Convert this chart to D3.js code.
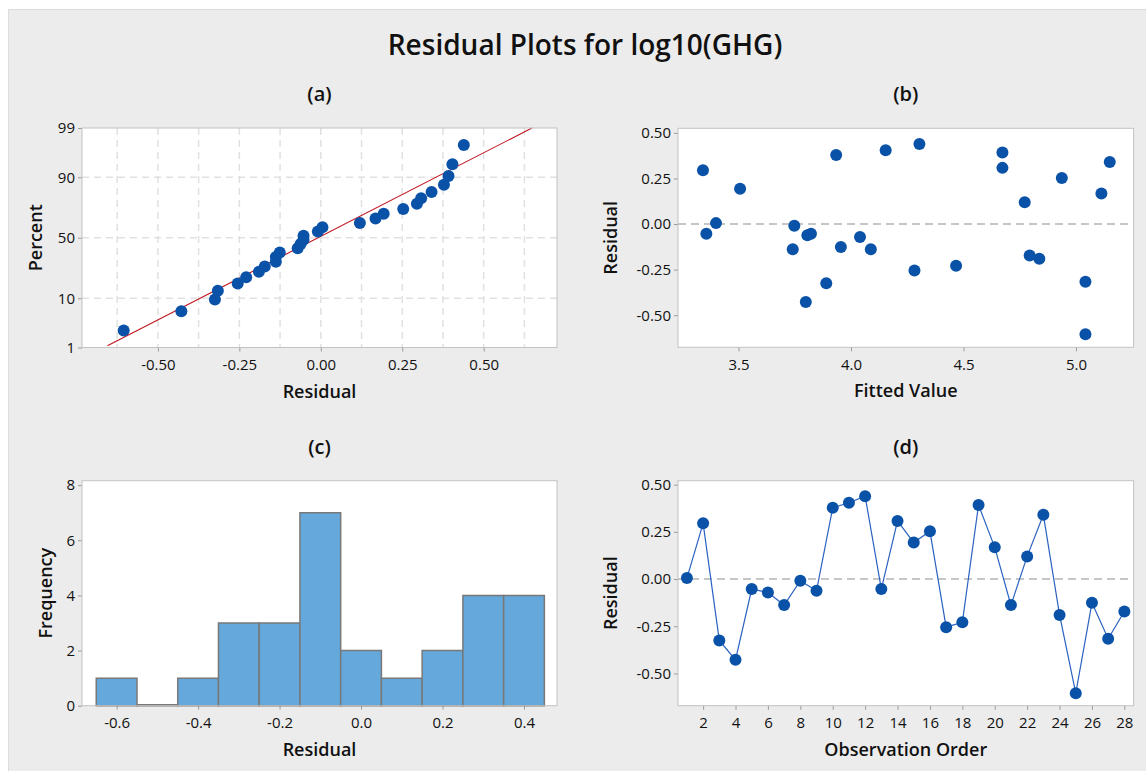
<!DOCTYPE html>
<html>
<head>
<meta charset="utf-8">
<script src="https://cdn.jsdelivr.net/npm/d3@7"></script>
<style>
  body { margin: 0; background: #fff; }
  text { font-family: "Open Sans", "Noto Sans", sans-serif; }
</style>
</head>
<body>
<div id="chart"></div>
<script>
// residuals in observation order (panel d)
var residuals = [0.005, 0.295, -0.325, -0.428, -0.053, -0.071, -0.138, -0.009, -0.062, 0.378,
                 0.404, 0.439, -0.053, 0.308, 0.193, 0.253, -0.255, -0.229, 0.392, 0.168,
                 -0.138, 0.120, 0.340, -0.190, -0.605, -0.126, -0.316, -0.172];
// fitted values for the same observations (panel b)
var fitted = [3.400, 3.342, 3.890, 3.799, 3.822, 4.040, 4.088, 3.748, 3.806, 3.934,
              4.154, 4.304, 3.357, 4.673, 3.507, 4.937, 4.282, 4.467, 4.673, 5.113,
              3.741, 4.772, 5.150, 4.837, 5.042, 3.955, 5.042, 4.794];
// percent position of each sorted residual on the probability plot (panel a)
var normPercent = [2.46, 5.99, 9.51, 13.03, 16.55, 20.07, 23.59, 27.11, 30.63, 34.15,
                   37.68, 41.20, 44.72, 48.24, 51.76, 55.28, 58.80, 62.32, 65.85, 69.37,
                   72.89, 76.41, 79.93, 83.45, 86.97, 90.49, 94.01, 97.54];
// fitted normal line ends: [residual, percent]
var fitLine = [[-0.655, 1.1], [0.648, 99]];
// histogram (panel c)
var binStarts = [-0.65, -0.55, -0.45, -0.35, -0.25, -0.15, -0.05, 0.05, 0.15, 0.25, 0.35];
var binCounts = [1, 0, 1, 3, 3, 7, 2, 1, 2, 4, 4];

var pctTicks = [1, 10, 50, 90, 99];
var resTicksA = [-0.5, -0.25, 0, 0.25, 0.5];
var gridA = [-0.625, -0.5, -0.375, -0.25, -0.125, 0, 0.125, 0.25, 0.375, 0.5, 0.625];
var fitTicks = [3.5, 4.0, 4.5, 5.0];
var resTicks = [-0.5, -0.25, 0, 0.25, 0.5];
var freqTicks = [0, 2, 4, 6, 8];
var histTicks = [-0.6, -0.4, -0.2, 0.0, 0.2, 0.4];
var orderTicks = [2, 4, 6, 8, 10, 12, 14, 16, 18, 20, 22, 24, 26, 28];

// inverse normal cdf (Acklam) for the probability axis
function probit(p) {
  var a = [-39.69683028665376, 220.9460984245205, -275.9285104469687, 138.3577518672690, -30.66479806614716, 2.506628277459239];
  var b = [-54.47609879822406, 161.5858368580409, -155.6989798598866, 66.80131188771972, -13.28068155288572];
  var c = [-0.007784894002430293, -0.3223964580411365, -2.400758277161838, -2.549732539343734, 4.374664141464968, 2.938163982698783];
  var d = [0.007784695709041462, 0.3224671290700398, 2.445134137142996, 3.754408661907416];
  var pl = 0.02425, q, r;
  if (p < pl) {
    q = Math.sqrt(-2 * Math.log(p));
    return (((((c[0]*q+c[1])*q+c[2])*q+c[3])*q+c[4])*q+c[5]) / ((((d[0]*q+d[1])*q+d[2])*q+d[3])*q+1);
  } else if (p <= 1 - pl) {
    q = p - 0.5; r = q * q;
    return (((((a[0]*r+a[1])*r+a[2])*r+a[3])*r+a[4])*r+a[5])*q / (((((b[0]*r+b[1])*r+b[2])*r+b[3])*r+b[4])*r+1);
  } else {
    q = Math.sqrt(-2 * Math.log(1 - p));
    return -(((((c[0]*q+c[1])*q+c[2])*q+c[3])*q+c[4])*q+c[5]) / ((((d[0]*q+d[1])*q+d[2])*q+d[3])*q+1);
  }
}

var w = 1146, h = 771;
var blue = "#0a52a8";

var svg = d3.select("#chart").append("svg")
    .attr("width", w)
    .attr("height", h);

svg.append("rect")
    .attr("x", 8.5).attr("y", 9.5)
    .attr("width", w - 8).attr("height", h - 9)
    .attr("fill", "#ececec")
    .attr("stroke", "#dcdcdc");

svg.append("text")
    .attr("x", 585).attr("y", 55)
    .attr("text-anchor", "middle")
    .attr("font-size", 28).attr("font-weight", 600)
    .attr("fill", "#111")
    .text("Residual Plots for log10(GHG)");

var fmt2 = function(d) { return d.toFixed(2); };
var fmt1 = function(d) { return d.toFixed(1); };

function styleAxis(g) {
  g.attr("font-family", null).attr("font-size", null);
  g.select(".domain").remove();
  g.selectAll(".tick line").attr("stroke", "#9a9a9a");
  g.selectAll(".tick text").attr("font-size", 15).attr("fill", "#111");
}

function frame(x0, y0, x1, y1, letter, xlab, ylab, ylabX) {
  svg.append("rect")
      .attr("x", x0).attr("y", y0)
      .attr("width", x1 - x0).attr("height", y1 - y0)
      .attr("fill", "#fff");
  svg.append("text")
      .attr("x", (x0 + x1) / 2).attr("y", y0 - 27)
      .attr("text-anchor", "middle")
      .attr("font-size", 20).attr("font-weight", 600).attr("fill", "#111")
      .text(letter);
  svg.append("text")
      .attr("x", (x0 + x1) / 2).attr("y", y1 + 50)
      .attr("text-anchor", "middle")
      .attr("font-size", 18).attr("font-weight", 600).attr("fill", "#111")
      .text(xlab);
  svg.append("text")
      .attr("transform", "translate(" + ylabX + "," + (y0 + y1) / 2 + ") rotate(-90)")
      .attr("text-anchor", "middle")
      .attr("dy", "0.35em")
      .attr("font-size", 18).attr("font-weight", 600).attr("fill", "#111")
      .text(ylab);
}

function border(x0, y0, x1, y1) {
  svg.append("rect")
      .attr("x", x0).attr("y", y0)
      .attr("width", x1 - x0).attr("height", y1 - y0)
      .attr("fill", "none")
      .attr("stroke", "#c2c2c2");
}

// ---------- (a) normal probability plot ----------
var ax0 = 82, ax1 = 557, ay0 = 128, ay1 = 347.5;
var xA = d3.scaleLinear().domain([-0.733, 0.725]).range([ax0, ax1]);
var yA = d3.scaleLinear().domain([probit(0.01), probit(0.99)]).range([ay1, ay0]);
frame(ax0, ay0, ax1, ay1, "(a)", "Residual", "Percent", 36);

svg.append("g").selectAll("line")
    .data(gridA).enter().append("line")
    .attr("x1", function(d) { return xA(d); }).attr("x2", function(d) { return xA(d); })
    .attr("y1", ay0).attr("y2", ay1)
    .attr("stroke", "#e1e1e1").attr("stroke-width", 1.5).attr("stroke-dasharray", "7,5");
svg.append("g").selectAll("line")
    .data([10, 50, 90]).enter().append("line")
    .attr("x1", ax0).attr("x2", ax1)
    .attr("y1", function(d) { return yA(probit(d / 100)); })
    .attr("y2", function(d) { return yA(probit(d / 100)); })
    .attr("stroke", "#e1e1e1").attr("stroke-width", 1.5).attr("stroke-dasharray", "7,5");

svg.append("g")
    .attr("transform", "translate(0," + ay1 + ")")
    .call(d3.axisBottom(xA).tickValues(resTicksA).tickFormat(fmt2).tickSize(4).tickPadding(8))
    .call(styleAxis);
svg.append("g")
    .attr("transform", "translate(" + ax0 + ",0)")
    .call(d3.axisLeft(d3.scaleLinear().domain(yA.domain()).range(yA.range()))
      .tickValues(pctTicks.map(function(p) { return probit(p / 100); }))
      .tickFormat(function(d, i) { return pctTicks[i]; })
      .tickSize(4).tickPadding(3))
    .call(styleAxis);

svg.append("path")
    .datum(fitLine)
    .attr("fill", "none")
    .attr("stroke", "#c0141e")
    .attr("stroke-width", 1.1)
    .attr("d", d3.line()
      .x(function(d) { return xA(d[0]); })
      .y(function(d) { return yA(probit(d[1] / 100)); }));

var sortedRes = residuals.slice().sort(d3.ascending);
svg.append("g").selectAll("circle")
    .data(sortedRes).enter().append("circle")
    .attr("cx", function(d) { return xA(d); })
    .attr("cy", function(d, i) { return yA(probit(normPercent[i] / 100)); })
    .attr("r", 6)
    .attr("fill", blue);
border(ax0, ay0, ax1, ay1);

// ---------- (b) versus fits ----------
var bx0 = 678, bx1 = 1133.6, by0 = 128.3, by1 = 347.3;
var xB = d3.scaleLinear().domain([3.231, 5.256]).range([bx0, bx1]);
var yB = d3.scaleLinear().domain([-0.676, 0.525]).range([by1, by0]);
frame(bx0, by0, bx1, by1, "(b)", "Fitted Value", "Residual", 611);

svg.append("line")
    .attr("x1", bx0).attr("x2", bx1)
    .attr("y1", yB(0)).attr("y2", yB(0))
    .attr("stroke", "#b4b4b4").attr("stroke-width", 1.5).attr("stroke-dasharray", "8,5");
svg.append("g")
    .attr("transform", "translate(0," + by1 + ")")
    .call(d3.axisBottom(xB).tickValues(fitTicks).tickFormat(fmt1).tickSize(4).tickPadding(8))
    .call(styleAxis);
svg.append("g")
    .attr("transform", "translate(" + bx0 + ",0)")
    .call(d3.axisLeft(yB).tickValues(resTicks).tickFormat(fmt2).tickSize(4).tickPadding(3))
    .call(styleAxis);
svg.append("g").selectAll("circle")
    .data(residuals).enter().append("circle")
    .attr("cx", function(d, i) { return xB(fitted[i]); })
    .attr("cy", function(d) { return yB(d); })
    .attr("r", 6)
    .attr("fill", blue);
border(bx0, by0, bx1, by1);

// ---------- (c) histogram ----------
var cx0 = 82, cx1 = 557, cy0 = 480.7, cy1 = 705.7;
var xC = d3.scaleLinear().domain([-0.685, 0.481]).range([cx0, cx1]);
var yC = d3.scaleLinear().domain([0, 8.16]).range([cy1, cy0]);
frame(cx0, cy0, cx1, cy1, "(c)", "Residual", "Frequency", 46);

svg.append("g")
    .attr("transform", "translate(0," + cy1 + ")")
    .call(d3.axisBottom(xC).tickValues(histTicks).tickFormat(fmt1).tickSize(4).tickPadding(8))
    .call(styleAxis);
svg.append("g")
    .attr("transform", "translate(" + cx0 + ",0)")
    .call(d3.axisLeft(yC).tickValues(freqTicks).tickFormat(d3.format("d")).tickSize(4).tickPadding(3))
    .call(styleAxis);
// bars as closed paths so an empty bin still shows its outline
svg.append("g").selectAll("path")
    .data(binCounts).enter().append("path")
    .attr("d", function(d, i) {
      var x0 = xC(binStarts[i]), x1 = xC(binStarts[i] + 0.1);
      var yt = yC(d) - (d === 0 ? 1 : 0), yb = yC(0);
      return "M" + x0 + "," + yb + "V" + yt + "H" + x1 + "V" + yb + "Z";
    })
    .attr("fill", "#65a8dc")
    .attr("stroke", "#787878")
    .attr("stroke-width", 1.5);
border(cx0, cy0, cx1, cy1);

// ---------- (d) versus order ----------
var dx0 = 678, dx1 = 1133.6, dy0 = 480.7, dy1 = 705.7;
var xD = d3.scaleLinear().domain([0.45, 28.57]).range([dx0, dx1]);
var yD = d3.scaleLinear().domain([-0.671, 0.521]).range([dy1, dy0]);
frame(dx0, dy0, dx1, dy1, "(d)", "Observation Order", "Residual", 611);

svg.append("line")
    .attr("x1", dx0).attr("x2", dx1)
    .attr("y1", yD(0)).attr("y2", yD(0))
    .attr("stroke", "#b4b4b4").attr("stroke-width", 1.5).attr("stroke-dasharray", "8,5");
svg.append("g")
    .attr("transform", "translate(0," + dy1 + ")")
    .call(d3.axisBottom(xD).tickValues(orderTicks).tickFormat(d3.format("d")).tickSize(4).tickPadding(8))
    .call(styleAxis);
svg.append("g")
    .attr("transform", "translate(" + dx0 + ",0)")
    .call(d3.axisLeft(yD).tickValues(resTicks).tickFormat(fmt2).tickSize(4).tickPadding(3))
    .call(styleAxis);
svg.append("path")
    .datum(residuals)
    .attr("fill", "none")
    .attr("stroke", "#2a62c0")
    .attr("stroke-width", 1.2)
    .attr("d", d3.line()
      .x(function(d, i) { return xD(i + 1); })
      .y(function(d) { return yD(d); }));
svg.append("g").selectAll("circle")
    .data(residuals).enter().append("circle")
    .attr("cx", function(d, i) { return xD(i + 1); })
    .attr("cy", function(d) { return yD(d); })
    .attr("r", 6)
    .attr("fill", blue);
border(dx0, dy0, dx1, dy1);
</script>
</body>
</html>
